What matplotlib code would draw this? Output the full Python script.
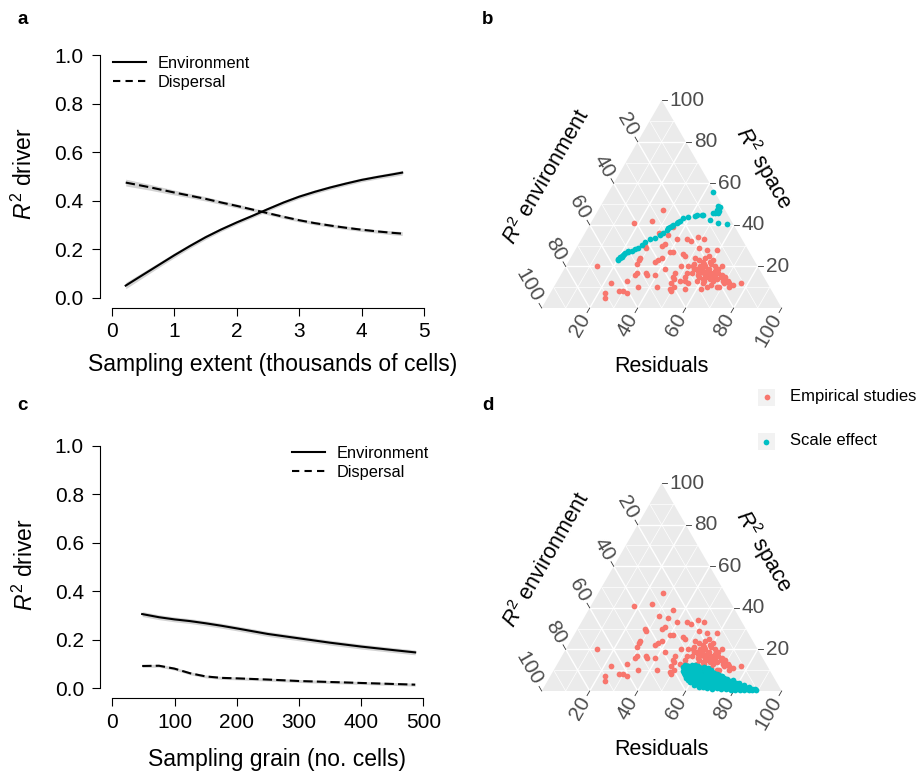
import numpy as np
import matplotlib.pyplot as plt
from matplotlib.lines import Line2D
from matplotlib.patches import Polygon, Rectangle

plt.rcParams['font.family'] = ['Liberation Sans', 'DejaVu Sans']
plt.rcParams['mathtext.fontset'] = 'custom'
plt.rcParams['mathtext.rm'] = 'Liberation Sans'
plt.rcParams['mathtext.it'] = 'Liberation Sans:italic'

W, H = 917, 774

# ---- panel a: sampling extent ----
extent_x = [0.22, 0.4, 0.6, 0.8, 1.0, 1.25, 1.5, 1.75, 2.0, 2.25,
            2.5, 2.75, 3.0, 3.25, 3.5, 3.75, 4.0, 4.25, 4.5, 4.65]
extent_env = [0.051, 0.080, 0.112, 0.144, 0.176, 0.214, 0.250, 0.282, 0.311, 0.338,
              0.366, 0.393, 0.417, 0.437, 0.455, 0.471, 0.486, 0.498, 0.509, 0.516]
extent_env_ci = [0.013, 0.012, 0.011, 0.010, 0.010, 0.009, 0.009, 0.008, 0.008, 0.008,
                 0.008, 0.008, 0.008, 0.008, 0.008, 0.008, 0.008, 0.008, 0.009, 0.009]
extent_disp = [0.475, 0.466, 0.456, 0.445, 0.434, 0.421, 0.408, 0.393, 0.379, 0.364,
               0.349, 0.334, 0.320, 0.308, 0.298, 0.289, 0.281, 0.274, 0.268, 0.265]
extent_disp_ci = [0.014, 0.013, 0.012, 0.011, 0.010, 0.009, 0.009, 0.008, 0.008, 0.007,
                  0.007, 0.007, 0.007, 0.007, 0.007, 0.007, 0.007, 0.007, 0.008, 0.008]

# ---- panel c: sampling grain ----
grain_x = [48, 75, 100, 125, 150, 175, 200, 250, 300, 350, 400, 450, 487]
grain_env = [0.306, 0.293, 0.284, 0.277, 0.268, 0.258, 0.247, 0.224, 0.206, 0.188, 0.172, 0.158, 0.148]
grain_env_ci = [0.010] * 13
grain_disp = [0.092, 0.093, 0.081, 0.062, 0.049, 0.043, 0.041, 0.036, 0.030, 0.026, 0.022, 0.018, 0.015]
grain_disp_ci = [0.006] * 13

# ---- empirical studies (% space, % residuals; environment = rest) ----
emp_space = [47, 41, 42, 39, 36, 35, 33, 33, 32, 34, 33, 30, 29, 31, 30, 27, 27, 29, 28, 28,
             25, 26, 25, 24, 23, 22, 24, 23, 21, 20, 19, 20, 24, 23, 22, 23, 20, 17, 16, 13,
             12, 8, 8, 7, 7, 5, 10, 17, 16, 16, 15, 12, 17, 10, 8, 15, 12, 11, 12, 15,
             17, 20, 20, 19, 18, 20, 20, 19, 17, 17, 17, 16, 17, 17, 15, 16, 15, 14, 21, 20,
             24, 22, 20, 19, 16, 15, 15, 13, 14, 13, 13, 12, 13, 11, 10, 13, 12, 13, 12, 10,
             14, 13, 10, 9, 9, 9, 10, 10, 18, 19, 18, 16, 18, 21, 14, 16, 19, 21]
emp_resid = [27, 18, 25, 35, 31, 35, 40, 44, 46, 48, 51, 28, 29, 36, 35, 41, 40, 51, 55, 59,
             57, 46, 47, 38, 37, 36, 29, 29, 29, 13, 42, 48, 52, 54, 56, 60, 65, 31, 31, 29,
             23, 28, 30, 32, 23, 24, 35, 35, 36, 39, 47, 48, 47, 43, 50, 52, 72, 74, 77, 67,
             65, 51, 53, 54, 56, 57, 58, 60, 62, 52, 54, 57, 57, 59, 61, 62, 64, 66, 53, 56,
             56, 59, 62, 64, 67, 69, 58, 61, 63, 65, 69, 70, 71, 65, 68, 53, 55, 58, 61, 73,
             48, 51, 50, 49, 55, 62, 64, 69, 58, 57, 60, 60, 63, 60, 60, 64, 55, 57]

# ---- scale effect, sampling extent ----
ext_space = [23.1, 23.5, 23.9, 24.3, 24.7, 25.1, 25.5, 25.9, 26.3, 26.8, 27.2, 27.6, 28.2, 29.0,
             30.3, 31.9, 33.1, 33.9, 35.1, 36.3, 37.5, 38.3, 39.2, 39.6, 40.0, 40.8, 41.4, 42.0,
             43.2, 43.9, 44.7, 44.7, 44.3, 44.8, 45.6, 47.2, 45.9, 48.8, 49.1, 46.8, 45.5, 42.3,
             41.0, 40.4, 56.0]
ext_resid = [20.4, 20.2, 20.7, 20.5, 21.0, 20.9, 21.3, 21.2, 21.6, 22.7, 22.3, 23.7, 24.8, 25.8,
             26.5, 27.1, 28.6, 30.3, 31.7, 32.5, 33.3, 33.6, 33.9, 34.4, 34.9, 35.8, 36.2, 36.6,
             37.4, 39.1, 42.2, 45.0, 41.7, 44.3, 48.7, 49.3, 50.7, 49.9, 49.0, 50.6, 49.5, 49.0,
             53.1, 56.9, 43.5]

# ---- scale effect, sampling grain ----
grn_space = [12.6, 12.2, 12.7, 12.3, 12.0,
             11.5, 11.8, 11.4, 11.7, 11.3, 11.6, 11.2,
             10.9, 10.6, 10.8, 10.5, 10.9, 10.4, 10.7, 10.3,
             9.8, 9.5, 9.9, 9.6, 9.4, 9.8, 9.5, 9.2,
             8.7, 8.4, 8.8, 8.5, 8.3, 8.7, 8.4, 8.6, 8.2,
             7.5, 7.2, 7.6, 7.3, 7.5, 7.1, 7.4, 7.2, 7.6, 7.0,
             6.4, 6.1, 6.5, 6.2, 6.4, 6.0, 6.3, 6.1, 6.4, 6.2, 5.9,
             5.2, 4.9, 5.3, 5.0, 5.2, 4.8, 5.1, 4.9, 5.3, 5.0, 4.8, 5.1,
             4.1, 3.8, 4.2, 3.9, 4.1, 3.7, 4.0, 3.8, 4.2, 3.9, 4.0, 3.7, 3.9,
             3.1, 2.8, 3.2, 2.9, 3.0, 2.7, 3.1, 2.9, 3.2, 2.8, 3.0, 2.7, 2.9,
             2.1, 1.8, 2.2, 1.9, 2.0, 1.7, 2.1, 1.9, 2.2, 1.8, 2.0, 1.7, 1.9,
             1.2, 0.9, 1.3, 1.0, 1.1, 0.8, 1.2, 1.0, 1.3, 0.9, 1.1, 0.8,
             0.5, 0.3, 0.6, 0.4, 0.5, 0.3, 0.4]
grn_resid = [53.5, 54.8, 56.2, 57.9, 59.1,
             53.2, 55.0, 56.7, 58.4, 60.3, 62.0, 63.5,
             53.8, 55.6, 57.2, 59.0, 60.8, 62.6, 64.1, 65.3,
             54.1, 56.0, 57.9, 59.7, 61.3, 63.0, 64.8, 66.2,
             54.9, 56.8, 58.5, 60.4, 62.1, 63.9, 65.6, 67.4, 68.9,
             56.0, 57.7, 59.6, 61.2, 63.0, 64.9, 66.5, 68.3, 70.1, 71.6,
             57.1, 59.0, 60.7, 62.5, 64.2, 66.0, 67.8, 69.5, 71.2, 72.9, 74.4,
             58.3, 60.1, 62.0, 63.8, 65.5, 67.2, 69.0, 70.8, 72.5, 74.1, 75.9, 77.3,
             59.6, 61.5, 63.3, 65.0, 66.9, 68.6, 70.3, 72.0, 73.8, 75.6, 77.2, 78.9, 80.4,
             61.8, 63.7, 65.6, 67.4, 69.2, 71.0, 72.7, 74.4, 76.1, 77.9, 79.6, 81.2, 82.9,
             64.5, 66.3, 68.2, 70.0, 71.8, 73.5, 75.3, 77.0, 78.8, 80.5, 82.2, 83.9, 85.5,
             68.4, 70.5, 72.4, 74.3, 76.2, 78.0, 79.8, 81.6, 83.4, 85.2, 86.9, 88.4,
             78.6, 80.4, 82.3, 84.2, 86.0, 87.6, 89.0]

tern_ticks = [20, 40, 60, 80, 100]

RED = '#F8766D'
CYAN = '#00BFC4'
SQ3 = np.sqrt(3) / 2

fig = plt.figure(figsize=(W / 100, H / 100), dpi=100)


def px_axes(l, t, r, b):
    return fig.add_axes([l / W, 1 - b / H, (r - l) / W, (b - t) / H])


def line_panel(ax, x, env, env_ci, disp, disp_ci, xmax, xlabel, xlab_pos, leg_pos):
    x = np.array(x)
    for y, w in ((env, env_ci), (disp, disp_ci)):
        y = np.array(y)
        w = np.array(w)
        ax.fill_between(x, y - w, y + w, color='#D3D3D3', lw=0, zorder=1)
    ax.plot(x, env, color='black', lw=1.5, zorder=2)
    ax.plot(x, disp, color='black', lw=1.5, dashes=(4.5, 2), zorder=2)
    ax.set_xlim(-0.04 * xmax, 1.04 * xmax)
    ax.set_ylim(-0.04, 1.04)
    ax.set_xticks(np.linspace(0, xmax, 6))
    ax.set_yticks([0, 0.2, 0.4, 0.6, 0.8, 1.0])
    ax.set_yticklabels(['0.0', '0.2', '0.4', '0.6', '0.8', '1.0'])
    for s in ('top', 'right'):
        ax.spines[s].set_visible(False)
    ax.spines['left'].set_bounds(0, 1)
    ax.spines['bottom'].set_bounds(0, xmax)
    for s in ('left', 'bottom'):
        ax.spines[s].set_linewidth(0.8)
    ax.tick_params(direction='out', length=5.5, width=0.8, labelsize=15)
    ax.tick_params(axis='y', pad=6)
    ax.tick_params(axis='x', pad=5)
    ax.set_xlabel(xlabel, fontsize=16.5)
    ax.set_ylabel(r'$R^2$ driver', fontsize=16.5)
    ax.xaxis.set_label_coords(*xlab_pos)
    ax.yaxis.set_label_coords(-0.185, 0.51)
    handles = [Line2D([], [], color='black', lw=1.5),
               Line2D([], [], color='black', lw=1.5, dashes=(3.5, 2.5))]
    ax.legend(handles, ['Environment', 'Dispersal'], loc='upper left',
              bbox_to_anchor=(leg_pos[0] / W, 1 - leg_pos[1] / H),
              bbox_transform=fig.transFigure, frameon=False, fontsize=11.8,
              handlelength=2.0, handletextpad=0.75, labelspacing=0.25,
              borderpad=0, borderaxespad=0)


def tern_xy(space, resid):
    s = np.asarray(space, float) / 100
    r = np.asarray(resid, float) / 100
    return r + 0.5 * s, s * SQ3


def tern_panel(ax, sp1, re1, sp2, re2):
    ax.add_patch(Polygon([[0, 0], [1, 0], [0.5, SQ3]], closed=True,
                         fc='#EBEBEB', ec='none', zorder=0))
    for v in range(10, 100, 10):
        f = v / 100
        kw = dict(color='white', lw=1.0 if v % 20 == 0 else 0.5, zorder=1,
                  solid_capstyle='butt')
        ax.plot([0.5 * f, 1 - 0.5 * f], [f * SQ3, f * SQ3], **kw)
        ax.plot([f, f + 0.5 * (1 - f)], [0, (1 - f) * SQ3], **kw)
        ax.plot([1 - f, 0.5 * (1 - f)], [0, (1 - f) * SQ3], **kw)
    tl, gap = 0.022, 0.012
    tk = dict(color='#333333', lw=0.6, clip_on=False)
    lab = dict(fontsize=15, color='#4D4D4D', va='center', rotation_mode='anchor')
    for v in tern_ticks:
        f = v / 100
        # R2 space, right edge
        x0, y0 = 1 - 0.5 * f, f * SQ3
        ax.plot([x0, x0 + tl], [y0, y0], **tk)
        ax.text(x0 + tl + gap, y0, str(v), ha='left', **lab)
        # R2 environment, left edge
        x0, y0 = 0.5 * (1 - f), (1 - f) * SQ3
        dx, dy = -0.5, SQ3
        ax.plot([x0, x0 + tl * dx], [y0, y0 + tl * dy], **tk)
        ax.text(x0 + (tl + gap) * dx, y0 + (tl + gap) * dy, str(v),
                rotation=-60, ha='right', **lab)
        # residuals, bottom edge
        x0, y0 = f, 0
        dx, dy = -0.5, -SQ3
        ax.plot([x0, x0 + tl * dx], [y0, y0 + tl * dy], **tk)
        ax.text(x0 + (tl + gap) * dx, y0 + (tl + gap) * dy, str(v),
                rotation=60, ha='right', **lab)
    x, y = tern_xy(sp1, re1)
    ax.scatter(x, y, s=17, color=RED, lw=0, zorder=3)
    x, y = tern_xy(sp2, re2)
    ax.scatter(x, y, s=17, color=CYAN, lw=0, zorder=4)
    ax.text(0.021, 0.547, r'$R^2$ environment', rotation=60, ha='center',
            va='center', fontsize=15.5)
    ax.text(0.923, 0.582, r'$R^2$ space', rotation=-60, ha='center',
            va='center', fontsize=15.5)
    ax.text(0.5, -0.245, 'Residuals', ha='center', va='center', fontsize=15.5)
    ax.axis('off')


ax_a = px_axes(99.5, 45.3, 436.5, 307.7)
line_panel(ax_a, extent_x, extent_env, extent_env_ci, extent_disp, extent_disp_ci,
           5, 'Sampling extent (thousands of cells)', (0.515, -0.172), (113, 56))

ax_c = px_axes(99.9, 436, 435.7, 698)
line_panel(ax_c, grain_x, grain_env, grain_env_ci, grain_disp, grain_disp_ci,
           500, 'Sampling grain (no. cells)', (0.526, -0.192), (292, 446))

ax_b = px_axes(480, 60, 900, 380)
ax_b.set_xlim(-0.2571, 1.4929)
ax_b.set_ylim(-0.3, 1.0333)
tern_panel(ax_b, emp_space, emp_resid, ext_space, ext_resid)

ax_d = px_axes(480, 440, 900, 770)
ax_d.set_xlim(-0.2571, 1.4929)
ax_d.set_ylim(-0.3292, 1.0458)
tern_panel(ax_d, emp_space, emp_resid, grn_space, grn_resid)

# legend for the ternary panels
leg = fig.add_axes([0, 0, 1, 1], zorder=-1)
leg.set_xlim(0, W)
leg.set_ylim(H, 0)
leg.axis('off')
for (kx, ky), col, name in (((766.5, 397), RED, 'Empirical studies'),
                            ((766, 441.5), CYAN, 'Scale effect')):
    leg.add_patch(Rectangle((kx - 8.5, ky - 8.5), 17, 17, fc='#F2F2F2', ec='none'))
    leg.scatter([kx], [ky], s=17, color=col, lw=0)
    leg.text(790, ky - 1, name, va='center', ha='left', fontsize=12)

for lx, ly, t in ((17, 19, 'a'), (482, 19, 'b'), (17, 405, 'c'), (482, 405, 'd')):
    fig.text(lx / W, 1 - ly / H, t, fontsize=13.5, fontweight='bold',
             ha='left', va='center')

fig.savefig('out.png', dpi=100)
